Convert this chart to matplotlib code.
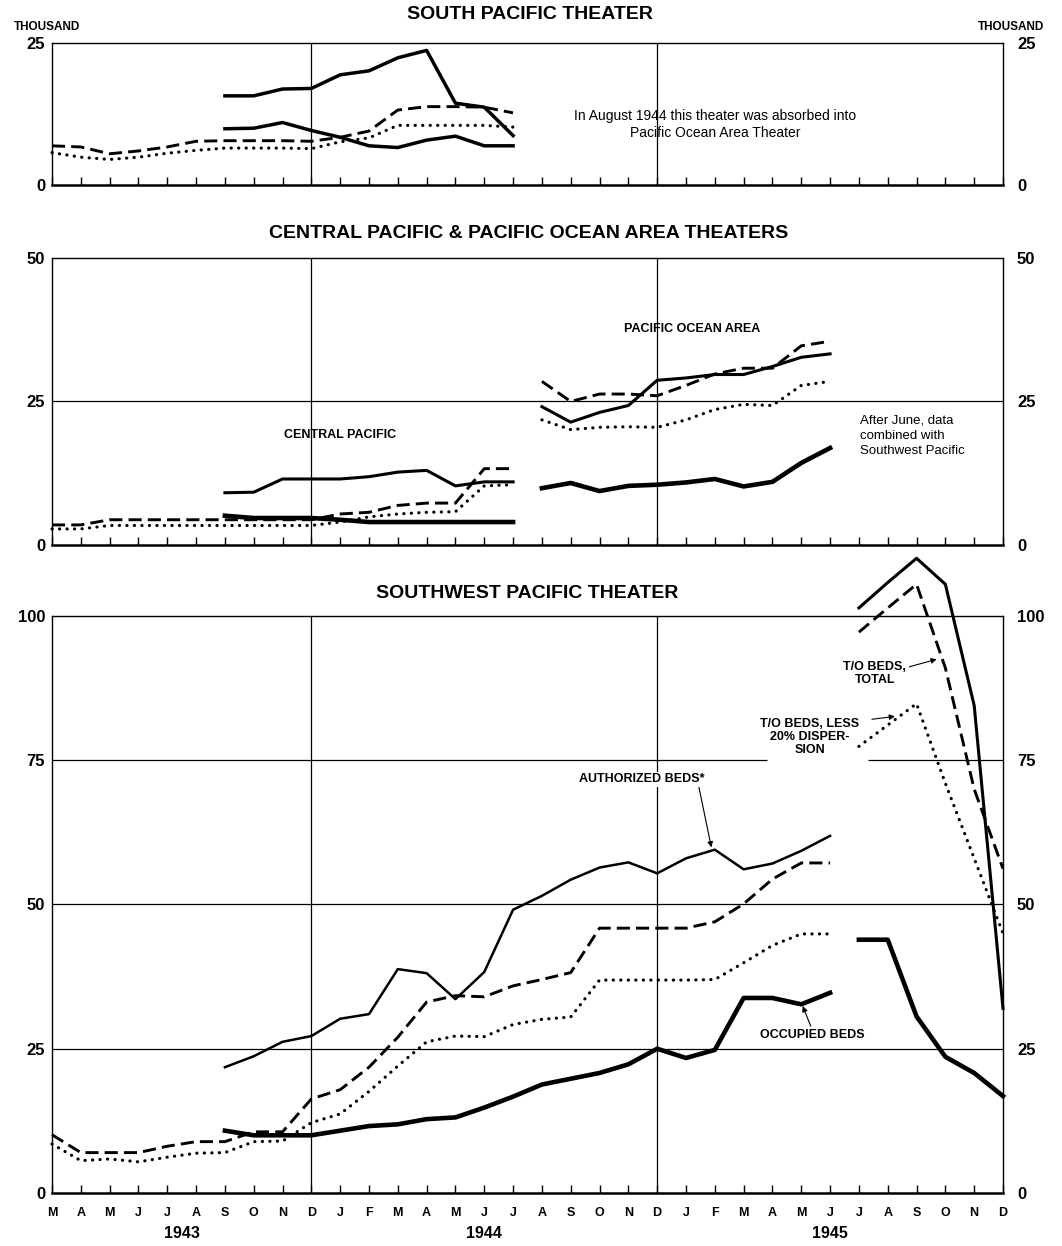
import numpy as np
import matplotlib

matplotlib.use("Agg")
import matplotlib.pyplot as plt

plt.rcParams["font.family"] = ["Liberation Sans", "DejaVu Sans"]

# x axis: Mar 1943 (index 0) ... Dec 1945 (index 33)
months = ["M", "A", "M", "J", "J", "A", "S", "O", "N", "D",
          "J", "F", "M", "A", "M", "J", "J", "A", "S", "O", "N", "D",
          "J", "F", "M", "A", "M", "J", "J", "A", "S", "O", "N", "D"]
years = ["1943", "1944", "1945"]
year_x = [4.5, 15.0, 27.0]

# South Pacific theater (thousand beds)
sp_auth_start = 6
sp_auth = [15.7, 15.7, 16.9, 17.0, 19.4, 20.1, 22.4, 23.7, 14.4, 13.7, 8.7]
sp_occ_start = 6
sp_occ = [9.9, 10.0, 11.0, 9.6, 8.4, 6.9, 6.6, 7.9, 8.6, 6.9, 6.9]
sp_total_start = 0
sp_total = [6.9, 6.7, 5.5, 6.0, 6.7, 7.7, 7.8, 7.8, 7.8, 7.7, 8.4, 9.5,
            13.2, 13.8, 13.8, 13.7, 12.7]
sp_less_start = 0
sp_less = [5.7, 4.9, 4.5, 4.9, 5.6, 6.1, 6.5, 6.5, 6.5, 6.4, 7.6, 8.3,
           10.5, 10.5, 10.5, 10.5, 10.2]

# Central Pacific theater
cp_auth_start = 6
cp_auth = [9.1, 9.2, 11.5, 11.5, 11.5, 11.9, 12.7, 13.0, 10.3, 11.0, 11.0]
cp_occ_start = 6
cp_occ = [5.1, 4.7, 4.7, 4.7, 4.4, 4.0, 4.0, 4.0, 4.0, 4.0, 4.0]
cp_total_start = 0
cp_total = [3.5, 3.5, 4.4, 4.4, 4.4, 4.4, 4.4, 4.4, 4.4, 4.4, 5.4, 5.7,
            6.9, 7.3, 7.3, 13.3, 13.3]
cp_less_start = 0
cp_less = [2.8, 2.8, 3.4, 3.4, 3.4, 3.4, 3.4, 3.4, 3.4, 3.4, 4.0, 4.9,
           5.4, 5.7, 5.8, 10.3, 10.5]

# Pacific Ocean Area theater (Aug 1944 - Jun 1945)
poa_start = 17
poa_auth = [24.1, 21.4, 23.1, 24.3, 28.7, 29.1, 29.7, 29.7, 31.1, 32.7, 33.3]
poa_total = [28.5, 25.0, 26.3, 26.3, 26.0, 27.8, 29.8, 30.8, 30.8, 34.7, 35.5]
poa_less = [21.8, 20.1, 20.5, 20.6, 20.5, 21.8, 23.6, 24.5, 24.3, 27.8, 28.5]
poa_occ = [9.9, 10.8, 9.4, 10.3, 10.5, 10.9, 11.5, 10.2, 11.0, 14.3, 16.9]

# Southwest Pacific theater, to Jun 1945
swp_auth_start = 6
swp_auth = [21.8, 23.7, 26.2, 27.2, 30.2, 31.0, 38.8, 38.1, 33.6, 38.3, 49.1,
            51.5, 54.3, 56.4, 57.3, 55.4, 58.0, 59.5, 56.1, 57.1, 59.3, 61.9]
swp_occ_start = 6
swp_occ = [10.8, 10.0, 10.0, 10.0, 10.8, 11.6, 11.9, 12.8, 13.1, 14.8, 16.7,
           18.8, 19.8, 20.8, 22.3, 25.0, 23.4, 24.8, 33.8, 33.8, 32.7, 34.7]
swp_total_start = 0
swp_total = [10.1, 7.0, 7.0, 7.0, 8.1, 8.9, 8.9, 10.6, 10.6, 16.3, 17.9, 21.8,
             27.0, 33.1, 34.2, 34.0, 35.9, 37.0, 38.2, 45.9, 45.9, 45.9, 45.9,
             47.0, 50.1, 54.4, 57.2, 57.2]
swp_less_start = 0
swp_less = [8.5, 5.6, 5.9, 5.4, 6.2, 6.9, 7.0, 8.9, 9.0, 12.2, 13.7, 17.6,
            22.0, 26.2, 27.2, 27.1, 29.2, 30.1, 30.5, 36.9, 36.9, 36.9, 36.9,
            37.0, 39.9, 42.9, 44.9, 44.9]
# Southwest Pacific, Jul - Dec 1945 (combined)
swp_late_start = 28
swp_auth_late = [101.4, 105.8, 110.0, 105.5, 84.5, 32.0]
swp_total_late = [97.2, 101.4, 105.5, 91.0, 70.0, 56.2]
swp_less_late = [77.4, 81.1, 84.8, 71.0, 58.0, 45.0]
swp_occ_late = [43.9, 43.9, 30.6, 23.6, 20.8, 16.8]


def draw(ax, start, vals, kind, lw=None):
    x = np.arange(start, start + len(vals))
    y = np.array(vals)
    if kind == "auth":
        ax.plot(x, y, color="black", lw=lw or 1.8, clip_on=False, zorder=4)
    elif kind == "occ":
        ax.plot(x, y, color="black", lw=lw or 3.3, clip_on=False, zorder=4)
    elif kind == "total":
        ax.plot(x, y, color="black", lw=2.1, dashes=(4.5, 2.1),
                clip_on=False, zorder=4)
    else:
        ax.plot(x, y, color="black", lw=2.3, linestyle=(0, (0.05, 2.3)),
                dash_capstyle="round", clip_on=False, zorder=4)


def setup(ax, top, label_months=False):
    ax.set_xlim(0, 33)
    ax.set_ylim(0, top)
    ax.set_xticks(range(len(months)))
    ax.tick_params(axis="x", direction="in", length=5.5, width=1,
                   labelbottom=label_months, pad=10)
    if label_months:
        ax.set_xticklabels(months, fontsize=9, fontweight="bold")
    yt = list(range(0, top + 1, 25))
    ax.set_yticks(yt)
    ax.set_yticklabels([str(v) for v in yt], fontsize=12, fontweight="bold")
    ax.tick_params(axis="y", length=0, pad=5)
    tw = ax.twinx()
    tw.set_ylim(0, top)
    tw.set_yticks(yt)
    tw.set_yticklabels([str(v) for v in yt], fontsize=12, fontweight="bold")
    tw.tick_params(axis="y", length=0, pad=10)
    for s in tw.spines.values():
        s.set_visible(False)
    for name, s in ax.spines.items():
        s.set_linewidth(1.8 if name == "bottom" else 1.0)
    for d in (9, 21):
        ax.axvline(d, color="black", lw=0.9, zorder=1)


fig = plt.figure(figsize=(10.62, 12.46), dpi=100)
L, W = 0.04896, 0.89548
ax1 = fig.add_axes([L, 0.85152, W, 0.11396])
ax2 = fig.add_axes([L, 0.56260, W, 0.23034])
ax3 = fig.add_axes([L, 0.04254, W, 0.46308])

# ---- South Pacific
setup(ax1, 25)
draw(ax1, sp_total_start, sp_total, "total")
draw(ax1, sp_less_start, sp_less, "less")
draw(ax1, sp_auth_start, sp_auth, "auth", lw=2.5)
draw(ax1, sp_occ_start, sp_occ, "occ", lw=2.5)
ax1.text(23.0, 10.6, "In August 1944 this theater was absorbed into\nPacific Ocean Area Theater",
         ha="center", va="center", fontsize=10, linespacing=1.3)

# ---- Central Pacific & Pacific Ocean Area
setup(ax2, 50)
ax2.axhline(25, color="black", lw=0.9, zorder=1)
draw(ax2, cp_total_start, cp_total, "total")
draw(ax2, cp_less_start, cp_less, "less")
draw(ax2, cp_auth_start, cp_auth, "auth", lw=2.2)
draw(ax2, cp_occ_start, cp_occ, "occ")
draw(ax2, poa_start, poa_total, "total")
draw(ax2, poa_start, poa_less, "less")
draw(ax2, poa_start, poa_auth, "auth", lw=2.2)
draw(ax2, poa_start, poa_occ, "occ")
ax2.text(10.0, 19.1, "CENTRAL PACIFIC", ha="center", va="center",
         fontsize=9, fontweight="bold")
ax2.text(22.2, 37.7, "PACIFIC OCEAN AREA", ha="center", va="center",
         fontsize=9, fontweight="bold")
ax2.text(28.05, 19.0, "After June, data\ncombined with\nSouthwest Pacific",
         ha="left", va="center", fontsize=9.5, linespacing=1.35)

# ---- Southwest Pacific
setup(ax3, 100, label_months=True)
ax3.axhline(25, color="black", lw=0.9, zorder=1)
ax3.axhline(50, color="black", lw=0.9, zorder=1)
ax3.hlines(75, 0, 24.8, color="black", lw=0.9, zorder=1)
ax3.hlines(75, 28.3, 33, color="black", lw=0.9, zorder=1)
draw(ax3, swp_total_start, swp_total, "total")
draw(ax3, swp_less_start, swp_less, "less")
draw(ax3, swp_auth_start, swp_auth, "auth")
draw(ax3, swp_occ_start, swp_occ, "occ")
draw(ax3, swp_late_start, swp_total_late, "total")
draw(ax3, swp_late_start, swp_less_late, "less")
draw(ax3, swp_late_start, swp_auth_late, "auth", lw=2.2)
draw(ax3, swp_late_start, swp_occ_late, "occ")

arrow = dict(arrowstyle="-|>", color="black", lw=0.8, mutation_scale=8,
             shrinkA=0, shrinkB=0)
ax3.text(18.3, 71.7, "AUTHORIZED BEDS*", ha="left", va="center", fontsize=9,
         fontweight="bold", zorder=3,
         bbox=dict(facecolor="white", edgecolor="none", pad=1))
ax3.annotate("", xy=(22.88, 59.9), xytext=(22.45, 70.3), arrowprops=arrow)
ax3.text(26.4, 27.4, "OCCUPIED BEDS", ha="center", va="center", fontsize=9,
         fontweight="bold")
ax3.annotate("", xy=(26.05, 32.4), xytext=(26.33, 28.9), arrowprops=arrow)
ax3.text(28.55, 90.0, "T/O BEDS,\nTOTAL", ha="center", va="center",
         fontsize=9, fontweight="bold", linespacing=1.1)
ax3.annotate("", xy=(30.7, 92.5), xytext=(29.75, 91.2), arrowprops=arrow)
ax3.text(26.3, 79.0, "T/O BEDS, LESS\n20% DISPER-\nSION", ha="center",
         va="center", fontsize=9, fontweight="bold", linespacing=1.1)
ax3.annotate("", xy=(29.25, 82.6), xytext=(28.45, 82.1), arrowprops=arrow)

for yr, xv in zip(years, year_x):
    ax3.text(xv, -0.071, yr, transform=ax3.get_xaxis_transform(),
             ha="center", va="center", fontsize=11.5, fontweight="bold")

# titles and unit labels
title_kw = dict(ha="center", va="center", fontsize=14, fontweight="bold")
fig.text(0.499, 0.988, "SOUTH PACIFIC THEATER", **title_kw)
fig.text(0.498, 0.813, "CENTRAL PACIFIC & PACIFIC OCEAN AREA THEATERS", **title_kw)
fig.text(0.496, 0.524, "SOUTHWEST PACIFIC THEATER", **title_kw)
fig.text(0.0438, 0.978, "THOUSAND", ha="center", va="center", fontsize=8.5,
         fontweight="bold")
fig.text(0.952, 0.978, "THOUSAND", ha="center", va="center", fontsize=8.5,
         fontweight="bold")

fig.savefig("out.png", dpi=100, facecolor="white")
